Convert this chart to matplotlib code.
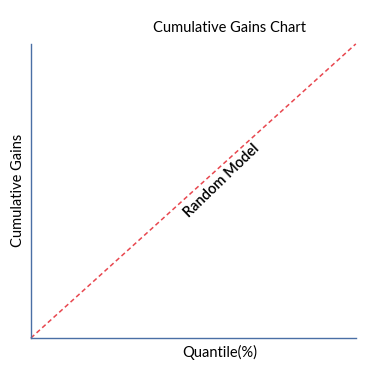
import matplotlib.pyplot as plt

quantile = [0, 100]
random_gain = [0, 100]

plt.rcParams['font.family'] = ['Lato', 'DejaVu Sans']

fig = plt.figure(figsize=(3.91, 3.69), dpi=100)
ax = fig.add_axes([0.079, 0.084, 0.831, 0.797])

ax.plot(quantile, random_gain, color="#e8474f", linestyle=(0, (3, 2)), linewidth=1.1, clip_on=False)
ax.set_xlim(0, 100)
ax.set_ylim(0, 100)
ax.set_xticks([])
ax.set_yticks([])
for side in ["top", "right"]:
    ax.spines[side].set_visible(False)
for side in ["left", "bottom"]:
    ax.spines[side].set_color("#4a6fa5")
    ax.spines[side].set_linewidth(1.0)

ax.text(58.8, 53.5, "Random Model", rotation=44, rotation_mode="anchor",
        ha="center", va="center", fontsize=10.5, fontweight="semibold", color="black")

fig.text(0.586, 0.924, "Cumulative Gains Chart", ha="center", va="center", fontsize=10.5)
fig.text(0.563, 0.046, "Quantile(%)", ha="center", va="center", fontsize=10.5)
fig.text(0.046, 0.485, "Cumulative Gains", ha="center", va="center", rotation=90, fontsize=10.5)

fig.savefig("out.png", dpi=100)
